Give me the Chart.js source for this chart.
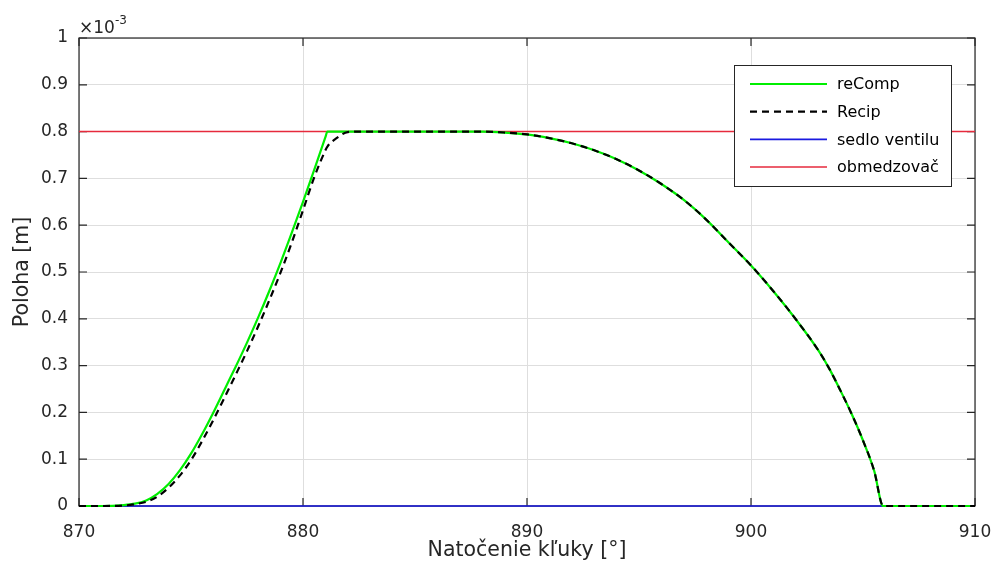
<!DOCTYPE html>
<html>
<head>
<meta charset="utf-8">
<script src="https://cdn.jsdelivr.net/npm/chart.js@4"></script>
<style>
  html, body { margin: 0; padding: 0; background: #fff; }
  canvas { display: block; }
</style>
</head>
<body>
<canvas id="chart" width="993" height="572"></canvas>
<script>
// Crank angle [deg]
const angle = [870, 871, 872, 872.5, 873, 873.5, 874, 874.5, 875, 875.5, 876, 876.5,
  877, 877.5, 878, 878.5, 879, 879.5, 880, 880.5, 881, 881.09, 881.5, 882, 882.5,
  884, 886, 888,
  889, 890, 891, 892, 893, 894, 895, 896, 897, 898, 899, 900, 901, 902, 903,
  903.5, 904, 904.5, 905, 905.5, 905.9,
  907, 908, 909, 910];

// Valve lift, in units of 1e-3 m
const reComp = [0, 0, 0.002, 0.005, 0.012, 0.026, 0.047, 0.076, 0.112, 0.154, 0.2, 0.249,
  0.298, 0.349, 0.403, 0.46, 0.52, 0.584, 0.65, 0.718, 0.788, 0.8, 0.8, 0.8, 0.8,
  0.8, 0.8, 0.8,
  0.798, 0.794, 0.786, 0.775, 0.76, 0.741, 0.717, 0.688, 0.654, 0.612, 0.563, 0.514, 0.459, 0.399, 0.333,
  0.293, 0.246, 0.196, 0.14, 0.075, 0,
  0, 0, 0, 0];

const recip = [0, 0, 0.001, 0.004, 0.009, 0.02, 0.039, 0.065, 0.098, 0.139, 0.184, 0.232,
  0.281, 0.331, 0.384, 0.44, 0.499, 0.563, 0.632, 0.702, 0.76, 0.768, 0.786, 0.799, 0.8,
  0.8, 0.8, 0.8,
  0.798, 0.794, 0.786, 0.775, 0.76, 0.741, 0.717, 0.688, 0.654, 0.612, 0.563, 0.514, 0.459, 0.399, 0.333,
  0.293, 0.246, 0.196, 0.14, 0.075, 0,
  0, 0, 0, 0];

// Valve seat and stroke limiter levels across the whole range
const limitAngle = [870, 910];
const seatLevel = [0, 0];
const stopLevel = [0.8, 0.8];

// Axis ticks
const xTicks = [870, 880, 890, 900, 910];
const yTicks = [0, 0.1, 0.2, 0.3, 0.4, 0.5, 0.6, 0.7, 0.8, 0.9, 1];

const FONT = 'DejaVu Sans';
const AXIS = '#262626';
const GRID = '#dedede';

const toXY = (xs, ys) => xs.map((x, i) => ({ x, y: ys[i] }));

// Axes box with inward tick marks, drawn under the data
const axesBox = {
  id: 'axesBox',
  beforeDatasetsDraw(chart) {
    const { ctx, chartArea: a, scales: { x, y } } = chart;
    ctx.save();
    ctx.strokeStyle = AXIS;
    ctx.lineWidth = 1.2;
    ctx.strokeRect(a.left, a.top, a.right - a.left, a.bottom - a.top);

    const tl = 8;
    ctx.beginPath();
    x.ticks.forEach(t => {
      const px = x.getPixelForValue(t.value);
      ctx.moveTo(px, a.bottom); ctx.lineTo(px, a.bottom - tl);
      ctx.moveTo(px, a.top); ctx.lineTo(px, a.top + tl);
    });
    y.ticks.forEach(t => {
      const py = y.getPixelForValue(t.value);
      ctx.moveTo(a.left, py); ctx.lineTo(a.left + tl, py);
      ctx.moveTo(a.right, py); ctx.lineTo(a.right - tl, py);
    });
    ctx.stroke();

    // exponent of the y axis
    ctx.fillStyle = AXIS;
    ctx.textAlign = 'left';
    ctx.textBaseline = 'alphabetic';
    ctx.font = `17px "${FONT}"`;
    ctx.fillText('×10', a.left, a.top - 5);
    const w = ctx.measureText('×10').width;
    ctx.font = `12px "${FONT}"`;
    ctx.fillText('-3', a.left + w, a.top - 14);
    ctx.restore();
  }
};

// Legend box in the upper right corner of the plot
const legendBox = {
  id: 'legendBox',
  afterDatasetsDraw(chart) {
    const { ctx, chartArea: a } = chart;
    ctx.save();
    const bx = a.right - 241, by = a.top + 27, bw = 217, bh = 121;
    ctx.fillStyle = '#fff';
    ctx.fillRect(bx, by, bw, bh);
    ctx.strokeStyle = AXIS;
    ctx.lineWidth = 1;
    ctx.strokeRect(bx + 0.5, by + 0.5, bw, bh);
    ctx.font = `16px "${FONT}"`;
    ctx.textAlign = 'left';
    ctx.textBaseline = 'middle';
    chart.data.datasets.forEach((ds, i) => {
      const ry = by + 19 + i * 27.7;
      ctx.beginPath();
      ctx.strokeStyle = ds.borderColor;
      ctx.lineWidth = ds.borderWidth;
      ctx.setLineDash(ds.borderDash || []);
      ctx.moveTo(bx + 16, ry);
      ctx.lineTo(bx + 93, ry);
      ctx.stroke();
      ctx.setLineDash([]);
      ctx.fillStyle = '#000';
      ctx.fillText(ds.label, bx + 103, ry + 1);
    });
    ctx.restore();
  }
};

new Chart(document.getElementById('chart'), {
  type: 'line',
  data: {
    datasets: [
      { label: 'reComp', data: toXY(angle, reComp), borderColor: '#00ee00', borderWidth: 2.2, order: 2 },
      { label: 'Recip', data: toXY(angle, recip), borderColor: '#000000', borderWidth: 2.2, borderDash: [7, 5], order: 1 },
      { label: 'sedlo ventilu', data: toXY(limitAngle, seatLevel), borderColor: '#1a1ae0', borderWidth: 1.6, order: 3 },
      { label: 'obmedzovač', data: toXY(limitAngle, stopLevel), borderColor: '#e62a3c', borderWidth: 1.5, order: 4 }
    ]
  },
  options: {
    responsive: false,
    animation: false,
    devicePixelRatio: 1,
    layout: { padding: { left: 0, right: 18, top: 38, bottom: 0 } },
    datasets: { line: { clip: false } },
    elements: {
      point: { radius: 0 },
      line: { cubicInterpolationMode: 'monotone', fill: false }
    },
    plugins: { legend: { display: false }, tooltip: { enabled: false } },
    scales: {
      x: {
        type: 'linear',
        min: 870, max: 910,
        afterBuildTicks: s => { s.ticks = xTicks.map(v => ({ value: v })); },
        afterFit: s => { s.height = 66; s.paddingLeft = 0; s.paddingRight = 0; },
        grid: { color: GRID, lineWidth: 1, drawTicks: false },
        border: { display: false },
        ticks: { color: AXIS, font: { family: FONT, size: 17 }, padding: 16, maxRotation: 0 },
        title: {
          display: true, text: 'Natočenie kľuky [°]', color: AXIS,
          font: { family: FONT, size: 20.5 }, padding: { top: 0, bottom: 9 }
        }
      },
      y: {
        type: 'linear',
        min: 0, max: 1,
        afterBuildTicks: s => { s.ticks = yTicks.map(v => ({ value: v })); },
        afterFit: s => { s.width = 79; s.paddingTop = 0; s.paddingBottom = 0; },
        grid: { color: GRID, lineWidth: 1, drawTicks: false },
        border: { display: false },
        ticks: {
          color: AXIS, font: { family: FONT, size: 17 }, padding: 11,
          callback: v => String(+v.toFixed(1))
        },
        title: {
          display: true, text: 'Poloha [m]', color: AXIS,
          font: { family: FONT, size: 20.5 }, padding: { top: 10, bottom: 0 }
        }
      }
    }
  },
  plugins: [axesBox, legendBox]
});
</script>
</body>
</html>
